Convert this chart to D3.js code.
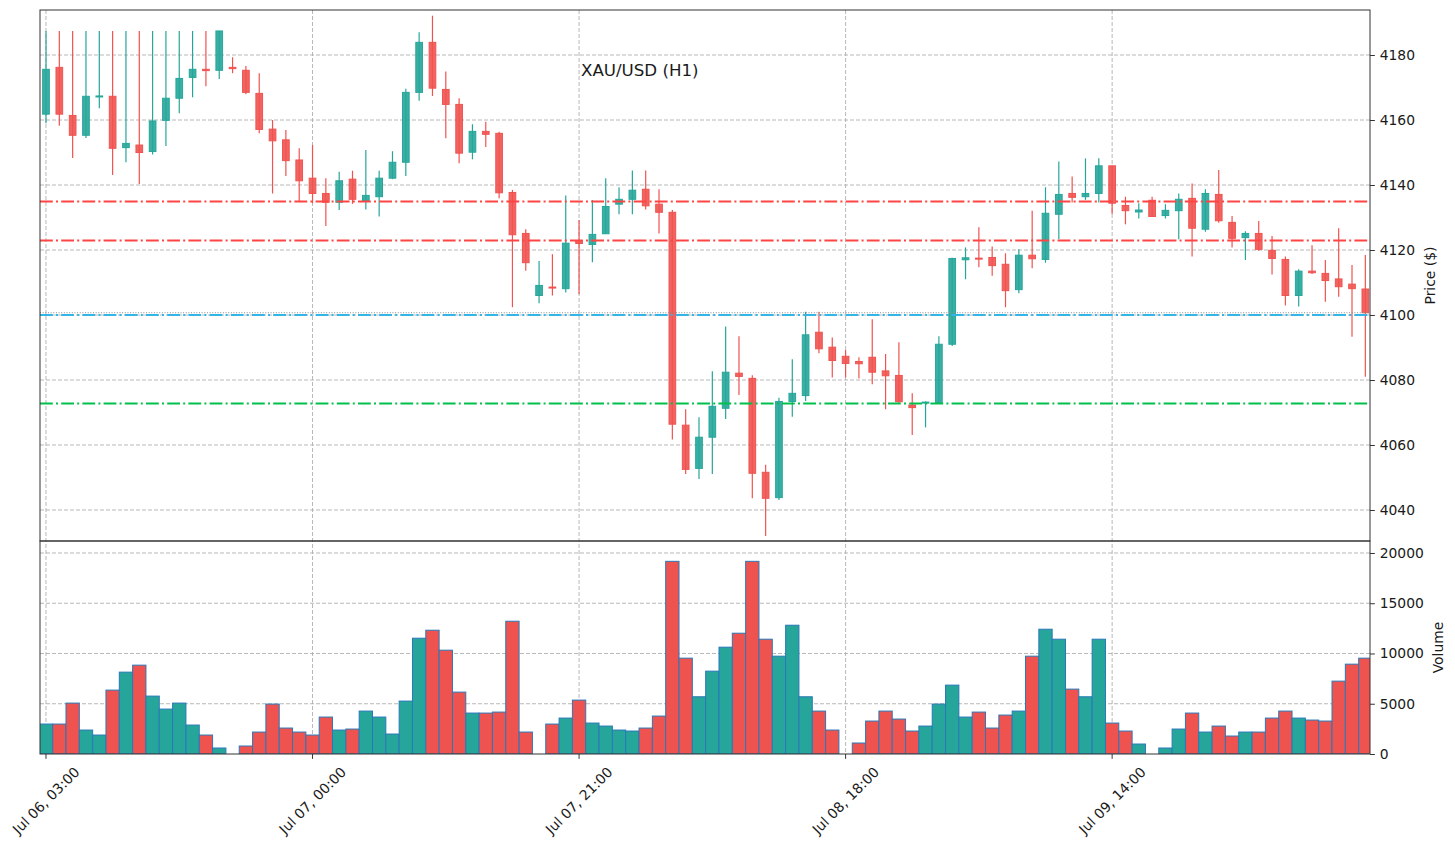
<!DOCTYPE html>
<html>
<head>
<meta charset="utf-8">
<script src="https://cdn.jsdelivr.net/npm/d3@7"></script>
<style>
  body { margin: 0; background: #fff; }
  text { font-family: "DejaVu Sans", sans-serif; }
</style>
</head>
<body>
<svg id="chart" width="1455" height="846"></svg>
<script>
// hourly OHLC
const opens = [4161.8,4176.2,4161.4,4155.3,4167.2,4167.3,4151.5,4152.3,4150.3,4159.9,
  4166.7,4173.1,4175.6,4175.3,4176.2,4175.3,4168.2,4157.2,4153.9,4147.7,
  4142.1,4137.4,4134.7,4141.8,4135.1,4136.4,4142.1,4147.0,4168.5,4183.9,
  4169.4,4164.8,4150.1,4156.5,4155.9,4137.7,4125.1,4106.0,4108.6,4108.1,
  4122.9,4121.7,4125.0,4134.1,4135.6,4138.7,4134.1,4131.6,4066.1,4052.8,
  4062.4,4071.3,4082.1,4080.5,4051.6,4043.8,4073.4,4075.2,4094.7,4090.1,
  4087.3,4085.7,4087.0,4082.8,4081.4,4072.3,4073.0,4073.1,4091.0,4117.0,
  4117.5,4117.7,4115.6,4107.8,4118.4,4117.1,4131.0,4137.4,4136.4,4137.4,
  4145.9,4133.7,4131.7,4135.3,4130.6,4132.1,4135.9,4126.4,4137.1,4128.5,
  4123.8,4125.1,4119.9,4117.1,4106.0,4113.5,4112.8,4111.1,4109.5,4108.0];
const highs = [4187.4,4187.4,4187.4,4187.4,4187.4,4187.4,4187.4,4187.4,4187.4,4187.4,
  4187.4,4187.4,4187.4,4187.4,4179.3,4176.6,4174.4,4160.0,4156.9,4151.3,
  4152.3,4142.1,4144.1,4144.4,4150.8,4144.4,4150.4,4169.6,4187.0,4192.1,
  4174.9,4166.7,4158.7,4159.5,4156.4,4138.5,4126.4,4116.6,4118.7,4136.8,
  4129.2,4135.4,4142.1,4139.3,4144.5,4144.5,4138.7,4132.3,4071.0,4068.5,
  4082.7,4096.5,4093.5,4081.5,4053.9,4074.5,4086.4,4101.0,4101.0,4093.1,
  4089.2,4087.0,4098.7,4088.0,4091.6,4075.9,4073.4,4093.5,4117.6,4120.8,
  4127.0,4121.1,4119.0,4120.2,4132.1,4139.3,4147.2,4142.6,4148.2,4148.2,
  4146.0,4136.4,4134.4,4136.4,4134.1,4137.4,4140.5,4138.7,4144.6,4130.5,
  4125.8,4128.9,4124.3,4118.0,4114.1,4121.5,4116.9,4126.7,4115.4,4118.5];
const lows = [4159.0,4158.2,4148.3,4154.5,4163.6,4143.1,4147.0,4140.3,4149.4,4152.0,
  4162.1,4167.0,4170.4,4172.6,4174.4,4167.9,4155.9,4137.4,4142.8,4134.9,
  4134.4,4127.4,4132.3,4134.2,4132.5,4130.3,4141.8,4142.8,4165.9,4167.4,
  4154.4,4146.7,4147.9,4151.7,4135.9,4102.4,4113.6,4103.6,4106.0,4106.9,
  4106.4,4116.2,4125.0,4131.0,4131.0,4132.5,4125.1,4061.7,4051.1,4049.5,
  4051.1,4068.0,4075.4,4043.6,4032.0,4043.1,4068.7,4073.5,4088.2,4080.8,
  4080.8,4080.5,4078.7,4071.0,4072.8,4063.1,4065.4,4073.1,4090.5,4111.0,
  4114.7,4112.1,4102.4,4106.7,4114.4,4116.1,4123.3,4134.6,4135.4,4134.6,
  4131.1,4127.9,4129.7,4130.2,4129.7,4123.3,4118.0,4125.6,4128.4,4120.8,
  4116.9,4119.8,4112.5,4102.9,4102.6,4112.6,4104.1,4105.6,4093.3,4081.0];
const closes = [4175.6,4161.8,4155.3,4167.3,4167.4,4151.3,4152.8,4150.0,4159.7,4166.7,
  4172.8,4175.6,4175.2,4187.4,4175.8,4168.5,4157.1,4153.6,4147.5,4141.3,
  4137.4,4134.7,4141.3,4135.6,4136.8,4142.1,4147.0,4168.5,4183.9,4169.8,
  4164.8,4149.8,4156.5,4155.6,4137.6,4124.7,4116.1,4109.1,4108.4,4122.1,
  4122.0,4124.8,4133.4,4135.6,4138.4,4133.6,4131.6,4066.4,4052.5,4062.4,
  4071.9,4082.4,4081.1,4051.3,4043.6,4073.4,4075.9,4093.9,4089.6,4086.0,
  4085.1,4085.0,4082.4,4081.3,4073.3,4071.5,4073.2,4091.0,4117.4,4117.6,
  4117.3,4115.2,4107.5,4118.4,4117.3,4131.3,4137.1,4136.2,4137.4,4145.9,
  4134.4,4132.1,4132.3,4130.3,4132.2,4135.6,4126.7,4137.4,4129.0,4123.6,
  4125.1,4120.2,4117.4,4106.0,4113.5,4113.0,4110.6,4108.7,4108.1,4100.7];
const volumes = [2980,2980,5066,2384,1887,6357,8145,8840,5761,4470,
  5066,2881,1887,596,0,795,2185,4967,2583,2185,
  1887,3675,2384,2483,4271,3675,1987,5265,11522,12317,
  10330,6158,4073,4073,4172,13211,2185,0,2980,3576,
  5364,3079,2781,2384,2285,2583,3775,19171,9536,5695,
  8244,10628,12019,19171,11423,9734,12814,5695,4271,2384,
  0,1093,3278,4271,3477,2285,2781,4967,6854,3675,
  4172,2583,3874,4271,9734,12416,11423,6456,5695,11423,
  3079,2285,993,0,596,2483,4073,2185,2781,1788,
  2185,2185,3576,4271,3576,3377,3278,7251,8940,9536];

const tickIndex = [0, 20, 40, 60, 80];
const tickLabels = ["Jul 06, 03:00", "Jul 07, 00:00", "Jul 07, 21:00", "Jul 08, 18:00", "Jul 09, 14:00"];
const priceTicks = [4040, 4060, 4080, 4100, 4120, 4140, 4160, 4180];
const volumeTicks = [0, 5000, 10000, 15000, 20000];

const resistance = [4134.9, 4122.9];
const pivot = 4100;
const support = 4072.8;

const title = "XAU/USD (H1)";

const left = 40, right = 1370;
const priceTop = 10, priceBottom = 541, volBottom = 754;
const tickLen = 4.86, tickPad = 4.86;
const fontSize = 13.89;

const upColor = "#26a69a", downColor = "#ef5350";
const frameColor = "#333333";

const svg = d3.select("#chart");

const x = d3.scaleLinear().domain([-0.45, 99.35]).range([left, right]);
const yPrice = d3.scaleLinear().domain([4030.46, 4193.85]).range([priceBottom, priceTop]);
const yVol = d3.scaleLinear().domain([0, 21194]).range([volBottom, priceBottom]);

const step = x(1) - x(0);
const idx = d3.range(closes.length);
const isUp = i => closes[i] >= opens[i];

const defs = svg.append("defs");
defs.append("clipPath").attr("id", "clipPrice")
  .append("rect").attr("x", left).attr("y", priceTop)
  .attr("width", right - left).attr("height", priceBottom - priceTop);
defs.append("clipPath").attr("id", "clipVol")
  .append("rect").attr("x", left).attr("y", priceBottom)
  .attr("width", right - left).attr("height", volBottom - priceBottom);

// grid
const grid = svg.append("g")
  .attr("stroke", "#b0b0b0")
  .attr("stroke-width", 0.9)
  .attr("stroke-dasharray", "4,2");

grid.selectAll(".vgrid")
  .data(tickIndex)
  .enter().append("line")
  .attr("x1", d => x(d)).attr("x2", d => x(d))
  .attr("y1", priceTop).attr("y2", volBottom);

grid.selectAll(".pgrid")
  .data(priceTicks)
  .enter().append("line")
  .attr("x1", left).attr("x2", right)
  .attr("y1", d => yPrice(d)).attr("y2", d => yPrice(d));

grid.selectAll(".vgrid2")
  .data(volumeTicks.filter(d => d > 0))
  .enter().append("line")
  .attr("x1", left).attr("x2", right)
  .attr("y1", d => yVol(d)).attr("y2", d => yVol(d));

// volume bars
svg.append("g")
  .attr("clip-path", "url(#clipVol)")
  .selectAll("rect")
  .data(idx.filter(i => volumes[i] > 0))
  .enter().append("rect")
  .attr("x", i => x(i) - step / 2)
  .attr("width", step)
  .attr("y", i => yVol(volumes[i]))
  .attr("height", i => yVol(0) - yVol(volumes[i]))
  .attr("fill", i => isUp(i) ? upColor : downColor)
  .attr("stroke", "#2a78b8")
  .attr("stroke-width", 1);

// candles
const candles = svg.append("g").attr("clip-path", "url(#clipPrice)");

candles.selectAll(".wick")
  .data(idx)
  .enter().append("line")
  .attr("x1", i => x(i)).attr("x2", i => x(i))
  .attr("y1", i => yPrice(highs[i]))
  .attr("y2", i => yPrice(lows[i]))
  .attr("stroke", i => isUp(i) ? upColor : downColor)
  .attr("stroke-width", 1.2);

candles.selectAll(".body")
  .data(idx)
  .enter().append("rect")
  .attr("x", i => x(i) - step * 0.25)
  .attr("width", step * 0.5)
  .attr("y", i => yPrice(Math.max(opens[i], closes[i])))
  .attr("height", i => Math.max(1, Math.abs(yPrice(opens[i]) - yPrice(closes[i]))))
  .attr("fill", i => isUp(i) ? upColor : downColor)
  .attr("fill-opacity", 0.9)
  .attr("stroke", i => isUp(i) ? upColor : downColor)
  .attr("stroke-width", 1);

// level lines
const levels = svg.append("g");
const dashDot = "12.8,3.2,2,3.2";

levels.selectAll(".res")
  .data(resistance)
  .enter().append("line")
  .attr("x1", left).attr("x2", right)
  .attr("y1", d => yPrice(d)).attr("y2", d => yPrice(d))
  .attr("stroke", "#ff4444")
  .attr("stroke-width", 2)
  .attr("stroke-dasharray", dashDot);

levels.append("line")
  .attr("x1", left).attr("x2", right)
  .attr("y1", yPrice(pivot)).attr("y2", yPrice(pivot))
  .attr("stroke", "#33b5e5")
  .attr("stroke-width", 2)
  .attr("stroke-dasharray", dashDot);

levels.append("line")
  .attr("x1", left).attr("x2", right)
  .attr("y1", yPrice(support)).attr("y2", yPrice(support))
  .attr("stroke", "#00c04b")
  .attr("stroke-width", 2)
  .attr("stroke-dasharray", dashDot);

// last close
levels.append("line")
  .attr("x1", left).attr("x2", right)
  .attr("y1", yPrice(closes[closes.length - 1])).attr("y2", yPrice(closes[closes.length - 1]))
  .attr("stroke", "#8c8c8c")
  .attr("stroke-width", 1)
  .attr("stroke-dasharray", "1,1.65");

// title
svg.append("text")
  .attr("x", 581).attr("y", 76)
  .attr("font-size", 16.67)
  .attr("fill", "#1a1a1a")
  .text(title);

// frames
svg.append("rect")
  .attr("x", left).attr("y", priceTop)
  .attr("width", right - left).attr("height", priceBottom - priceTop)
  .attr("fill", "none").attr("stroke", frameColor).attr("stroke-width", 1);
svg.append("rect")
  .attr("x", left).attr("y", priceBottom)
  .attr("width", right - left).attr("height", volBottom - priceBottom)
  .attr("fill", "none").attr("stroke", frameColor).attr("stroke-width", 1);

// right axes
function styleAxis(g) {
  g.select(".domain").remove();
  g.selectAll(".tick line").attr("stroke", frameColor);
  g.selectAll(".tick text")
    .attr("font-size", fontSize)
    .attr("font-family", "DejaVu Sans, sans-serif")
    .attr("fill", "#1a1a1a");
}

svg.append("g")
  .attr("transform", `translate(${right},0)`)
  .call(d3.axisRight(yPrice).tickValues(priceTicks).tickSize(tickLen).tickPadding(tickPad).tickFormat(d3.format("d")))
  .call(styleAxis);

svg.append("g")
  .attr("transform", `translate(${right},0)`)
  .call(d3.axisRight(yVol).tickValues(volumeTicks).tickSize(tickLen).tickPadding(tickPad).tickFormat(d3.format("d")))
  .call(styleAxis);

// bottom ticks
svg.append("g")
  .selectAll("line")
  .data(tickIndex)
  .enter().append("line")
  .attr("x1", d => x(d)).attr("x2", d => x(d))
  .attr("y1", volBottom).attr("y2", volBottom + tickLen)
  .attr("stroke", frameColor);

const dateLabels = svg.append("g")
  .selectAll("text")
  .data(tickIndex)
  .enter().append("text")
  .attr("font-size", fontSize)
  .attr("fill", "#1a1a1a")
  .attr("text-anchor", "middle")
  .attr("dominant-baseline", "central")
  .text((d, i) => tickLabels[i]);

dateLabels.each(function(d) {
  const L = this.getComputedTextLength();
  const h = fontSize * 1.16;
  const bboxH = (L + h) * Math.SQRT1_2;
  const cy = volBottom + tickLen + tickPad + bboxH / 2;
  d3.select(this).attr("transform", `translate(${x(d)},${cy}) rotate(-45)`);
});

// axis titles
svg.append("text")
  .attr("transform", `translate(1430,${(priceTop + priceBottom) / 2}) rotate(-90)`)
  .attr("text-anchor", "middle")
  .attr("dominant-baseline", "central")
  .attr("font-size", fontSize)
  .attr("fill", "#1a1a1a")
  .text("Price ($)");

svg.append("text")
  .attr("transform", `translate(1438,${(priceBottom + volBottom) / 2}) rotate(-90)`)
  .attr("text-anchor", "middle")
  .attr("dominant-baseline", "central")
  .attr("font-size", fontSize)
  .attr("fill", "#1a1a1a")
  .text("Volume");
</script>
</body>
</html>
